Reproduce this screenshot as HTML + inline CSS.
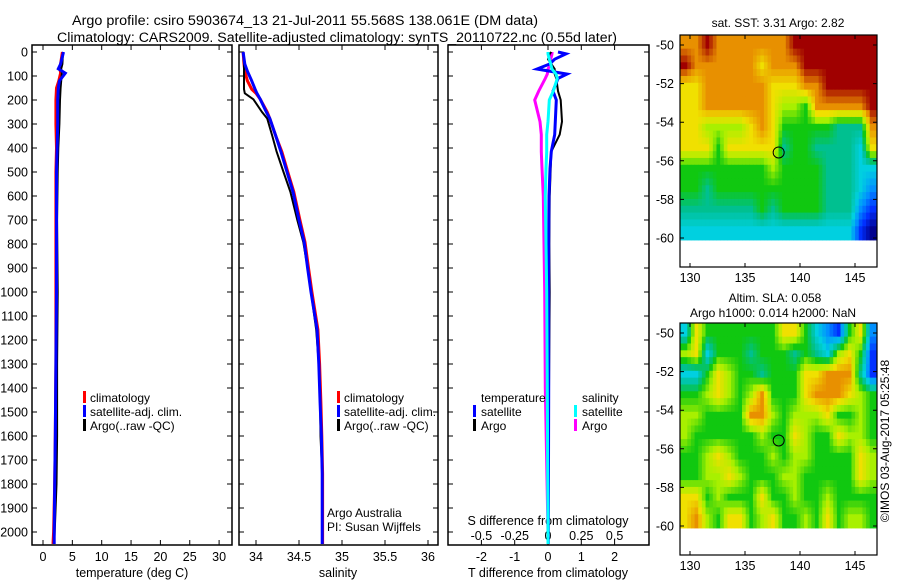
<!DOCTYPE html>
<html><head><meta charset="utf-8"><title>Argo profile</title>
<style>html,body{margin:0;padding:0;background:#fff}svg{display:block}text{font-family:"Liberation Sans",sans-serif;fill:#000}</style></head>
<body>
<svg id="fig" width="900" height="580" viewBox="0 0 900 580" xmlns="http://www.w3.org/2000/svg">
<text x="305" y="25" font-size="13.5" text-anchor="middle" textLength="466" lengthAdjust="spacingAndGlyphs">Argo profile: csiro 5903674_13 21-Jul-2011 55.568S 138.061E (DM data)</text>
<text x="337" y="42" font-size="13.5" text-anchor="middle" textLength="560" lengthAdjust="spacingAndGlyphs">Climatology: CARS2009. Satellite-adjusted climatology: synTS_20110722.nc (0.55d later)</text>
<g id="g"></g>
</svg>
<script>
// ---------- data ----------
const depthTicks=[0,100,200,300,400,500,600,700,800,900,1000,1100,1200,1300,1400,1500,1600,1700,1800,1900,2000];
const tempTicks=[0,5,10,15,20,25,30];
const salTicks=[34,34.5,35,35.5,36];
const salTickLabels=["34","34.5","35","35.5","36"];
const tdTicks=[-2,-1,0,1,2];
const sdTicks=[-0.5,-0.25,0,0.25,0.5];
const sdTickLabels=["-0.5","-0.25","0","0.25","0.5"];

const tDepth=[0,50,70,88,120,150,200,300,400,500,700,1000,1300,1600,1800,2000,2050];
const tClim=[3.3,3.0,2.9,3.0,2.7,2.3,2.2,2.2,2.3,2.2,2.2,2.2,2.2,2.1,2.0,1.8,1.7];
const tSat=[3.5,3.0,2.6,3.8,2.8,2.6,2.5,2.5,2.4,2.3,2.3,2.3,2.2,2.1,2.0,1.9,1.9];
const tArgo=[3.4,3.3,3.1,3.2,3.1,3.0,2.9,2.8,2.6,2.5,2.4,2.5,2.4,2.4,2.3,2.0,1.9];

const sDepth=[0,50,80,120,155,172,197,250,277,350,415,500,583,700,792,900,1000,1157,1300,1463,1600,1757,2000,2050];
const sClim=[33.85,33.86,33.87,33.9,33.95,34.0,34.05,34.13,34.16,34.23,34.3,34.37,34.44,34.51,34.57,34.61,34.65,34.72,34.74,34.755,34.765,34.775,34.775,34.775];
const sSat=[33.85,33.87,33.9,33.95,33.99,34.01,34.05,34.12,34.16,34.23,34.29,34.36,34.43,34.5,34.56,34.6,34.64,34.71,34.73,34.745,34.76,34.77,34.77,34.77];
const sArgo=[33.85,33.86,33.86,33.86,33.86,33.87,33.97,34.07,34.13,34.19,34.24,34.32,34.4,34.48,34.55,34.6,34.64,34.7,34.73,34.745,34.75,34.77,34.77,34.77];

const dDepth=[0,8,30,50,71,92,110,163,200,290,344,415,485,600,800,1000,1400,2000,2050];
const dTSat=[0.3,0.54,0.2,0.05,-0.33,0.57,0.3,0.15,0.25,0.22,0.2,0.1,0.06,0.03,0.02,0.02,0.02,0.01,0.01];
const dTArgo=[0.1,0.05,0.0,0.1,0.2,0.2,0.25,0.3,0.38,0.42,0.35,0.1,0.08,0.05,0.04,0.05,0.03,0.01,0.01];
const dSSat=[0.0,0.0,0.01,0.02,0.03,0.06,0.07,0.04,0.01,0.0,-0.01,-0.01,-0.015,-0.02,-0.015,-0.01,-0.005,0.0,0.0];
const dSArgo=[0.03,0.03,0.02,0.02,0.0,-0.005,-0.02,-0.07,-0.1,-0.06,-0.05,-0.05,-0.045,-0.035,-0.03,-0.025,-0.02,0.0,0.0];

const mapLonTicks=[130,135,140,145];
const mapLatTicks=[-50,-52,-54,-56,-58,-60];
const sstGrid=["889888888899999999","988888878889999999","778888887778899999","778888887665888889","776666787555554448","777577777455444437","555555556555544433","554555555555544432","444444454555544421","333333333333333310"];
const slaGrid=["375555555775321572","673555455545436751","335765545557788841","556765685557888765","665555886566675565","655555565576557665","556765556566555576","556676555665555576","775655575565565555","786577567556575665"];
const floatLon=138.061, floatLat=-55.568;
const palette=["#00008f","#0030ff","#0090ff","#00d0e0","#00c090","#10c810","#a8f000","#f0e000","#e89000","#a00000"];

// ---------- helpers ----------
const NS="http://www.w3.org/2000/svg";
const G=document.getElementById('g');
function mk(tag,a,parent){const e=document.createElementNS(NS,tag);for(const k in a)e.setAttribute(k,a[k]);(parent||G).appendChild(e);return e;}
const yD=d=>52+0.24*d;
const P1={x0:32,x1:232}, P2={x0:239,x1:438}, P3={x0:448,x1:649};
const PY0=45, PY1=545;
const xT=t=>43+5.87*t;
const xS=s=>256+86*(s-34);
const xTD=t=>548+33.3*t;
const xSD=s=>548+133.2*s;

function frame(p,name,labels){
  let r=mk('rect',{x:p.x0,y:PY0,width:p.x1-p.x0,height:PY1-PY0,fill:'none',stroke:'#000','stroke-width':1.5});
  
  
  depthTicks.forEach(d=>{
    let l=mk('path',{d:`M${p.x0},${yD(d)}h5M${p.x1},${yD(d)}h-5`,stroke:'#000','stroke-width':1});
    
    
    if(labels){
      let t=mk('text',{x:28,y:yD(d)+4.5,'font-size':12.5,'text-anchor':'end'});
      t.textContent=d;
      
      
    }
  });
}
function xticks(vals,labs,fx,name,ylab){
  vals.forEach((v,i)=>{
    let l=mk('path',{d:`M${fx(v)},${PY1}v-5M${fx(v)},${PY0}v5`,stroke:'#000','stroke-width':1});
    
    
    let t=mk('text',{x:fx(v),y:ylab,'font-size':12.5,'text-anchor':'middle'});
    t.textContent=labs?labs[i]:v;
    
    
  });
}
function line(ds,vs,fx,color,w,name){
  const pts=ds.map((d,i)=>fx(vs[i]).toFixed(1)+','+yD(Math.min(d,2054)).toFixed(1)).join(' ');
  let p=mk('polyline',{points:pts,fill:'none',stroke:color,'stroke-width':w,'stroke-linejoin':'miter'});
  
  
}
function label(x,y,s,name,size,anchor){
  let t=mk('text',{x:x,y:y,'font-size':size||12,'text-anchor':anchor||'start'});
  t.textContent=s;
  
  
}
function legBar(x,y,color,name){
  let r=mk('rect',{x:x,y:y-6,width:3,height:12,fill:color});
  
  
}

// ---------- panel 1: temperature ----------
frame(P1,'temperature-panel',true);
xticks(tempTicks,null,xT,'temperature-axis',561);
label(132,577,'temperature (deg C)','temperature-axis-title',12.5,'middle');
line(tDepth,tClim,xT,'#ff0000',3,'temperature-climatology-line');
line(tDepth,tArgo,xT,'#000000',2,'temperature-argo-line');
line(tDepth,tSat,xT,'#0000ff',3,'temperature-satellite-line');
legBar(83,397,'#ff0000','legend-swatch-climatology');label(90,402,'climatology','legend-climatology');
legBar(83,411,'#0000ff','legend-swatch-satellite');label(90,416,'satellite-adj. clim.','legend-satellite');
legBar(83,425,'#000000','legend-swatch-argo');label(90,430,'Argo(..raw -QC)','legend-argo');

// ---------- panel 2: salinity ----------
frame(P2,'salinity-panel',false);
xticks(salTicks,salTickLabels,xS,'salinity-axis',561);
label(338,577,'salinity','salinity-axis-title',12.5,'middle');
line(sDepth,sClim,xS,'#ff0000',3,'salinity-climatology-line');
line(sDepth,sArgo,xS,'#000000',2,'salinity-argo-line');
line(sDepth,sSat,xS,'#0000ff',3,'salinity-satellite-line');
legBar(337,397,'#ff0000','legend2-swatch-climatology');label(344,402,'climatology','legend2-climatology');
legBar(337,411,'#0000ff','legend2-swatch-satellite');label(344,416,'satellite-adj. clim.','legend2-satellite');
legBar(337,425,'#000000','legend2-swatch-argo');label(344,430,'Argo(..raw -QC)','legend2-argo');
label(327,517,'Argo Australia','credit-argo-australia');
label(327,531,'PI: Susan Wijffels','credit-pi');

// ---------- panel 3: differences ----------
frame(P3,'difference-panel',false);
xticks(tdTicks,null,xTD,'t-difference-axis',561);
sdTicks.forEach((v,i)=>{label(xSD(v),540,sdTickLabels[i],'s-difference-tick-label',12.5,'middle');});
label(548,577,'T difference from climatology','t-difference-axis-title',12.5,'middle');
label(548,525,'S difference from climatology','s-difference-axis-title',12.5,'middle');
line(dDepth,dSArgo,xSD,'#ff00ff',3,'s-diff-argo-line');
line(dDepth,dTArgo,xTD,'#000000',2,'t-diff-argo-line');
line(dDepth,dTSat,xTD,'#0000ff',3,'t-diff-satellite-line');
line(dDepth,dSSat,xSD,'#00ffff',3,'s-diff-satellite-line');
label(481,402,'temperature','legend3-temperature-header');
legBar(473,411,'#0000ff','legend3-swatch-t-satellite');label(481,416,'satellite','legend3-t-satellite');
legBar(473,425,'#000000','legend3-swatch-t-argo');label(481,430,'Argo','legend3-t-argo');
label(582,402,'salinity','legend3-salinity-header');
legBar(574,411,'#00ffff','legend3-swatch-s-satellite');label(582,416,'satellite','legend3-s-satellite');
legBar(574,425,'#ff00ff','legend3-swatch-s-argo');label(582,430,'Argo','legend3-s-argo');

// ---------- maps ----------
function hex(c){return [1,3,5].map(i=>parseInt(c.substr(i,2),16));}
function cmap(v){
  v=Math.max(0,Math.min(9,v));
  const i=Math.min(8,Math.floor(v)), f=v-i;
  const a=hex(palette[i]), b=hex(palette[i+1]);
  return 'rgb('+a.map((x,k)=>Math.round(x+(b[k]-x)*f)).join(',')+')';
}
function sample(grid,r,c){
  const R=grid.length, C=grid[0].length;
  r=Math.max(0,Math.min(R-1,r)); c=Math.max(0,Math.min(C-1,c));
  const r0=Math.floor(r), c0=Math.floor(c), r1=Math.min(R-1,r0+1), c1=Math.min(C-1,c0+1);
  const fr=r-r0, fc=c-c0, g=(a,b)=>+grid[a][b];
  return g(r0,c0)*(1-fr)*(1-fc)+g(r0,c1)*(1-fr)*fc+g(r1,c0)*fr*(1-fc)+g(r1,c1)*fr*fc;
}
function drawMap(grid,top,name){
  const L={x0:680,x1:877};
  const lon=v=>690+11*(v-130);
  const lat0=top+10, lat=v=>lat0+19.3*(-50-v);
  const yTop=top, yBot=top+232, dataBot=lat(-60.1);
  const rows=grid.length, cols=grid[0].length, up=3;
  const cw=(L.x1-L.x0)/(cols*up), ch=(dataBot-yTop)/(rows*up);
  for(let r=0;r<rows*up;r++){
    for(let c=0;c<cols*up;c++){
      const v=sample(grid,(r+0.5)/up-0.5,(c+0.5)/up-0.5);
      const cell=mk('rect',{x:(L.x0+c*cw).toFixed(2),y:(yTop+r*ch).toFixed(2),width:(cw+0.5).toFixed(2),height:(ch+0.5).toFixed(2),fill:cmap(v)});
      
      
    }
  }
  let f=mk('rect',{x:L.x0,y:yTop,width:L.x1-L.x0,height:yBot-yTop,fill:'none',stroke:'#000','stroke-width':1.2});
  
  
  mapLonTicks.forEach(v=>{
    let l=mk('path',{d:`M${lon(v)},${yBot}v-4M${lon(v)},${yTop}v4`,stroke:'#000'});
    
    
    label(lon(v),yBot+15,String(v),name+'-lon-label',12.5,'middle');
  });
  mapLatTicks.forEach(v=>{
    let l=mk('path',{d:`M${L.x0},${lat(v)}h4M${L.x1},${lat(v)}h-4`,stroke:'#000'});
    
    
    label(674,lat(v)+4.5,String(v),name+'-lat-label',12.5,'end');
  });
  let c=mk('circle',{cx:lon(floatLon),cy:lat(floatLat),r:5.5,fill:'none',stroke:'#000','stroke-width':1});
  
  
}
drawMap(sstGrid,35,'sst-map');
label(778,27,'sat. SST: 3.31  Argo: 2.82','sst-map-title',12,'middle');
drawMap(slaGrid,323,'sla-map');
label(775,302,'Altim. SLA: 0.058','sla-map-title',12,'middle');
label(773,317,'Argo h1000: 0.014 h2000: NaN','sla-map-subtitle',12,'middle');
let v=mk('text',{x:0,y:0,'font-size':12,'text-anchor':'middle',transform:'translate(889,441) rotate(-90)'});
v.textContent='©IMOS 03-Aug-2017 05:25:48';


</script>
</body></html>
